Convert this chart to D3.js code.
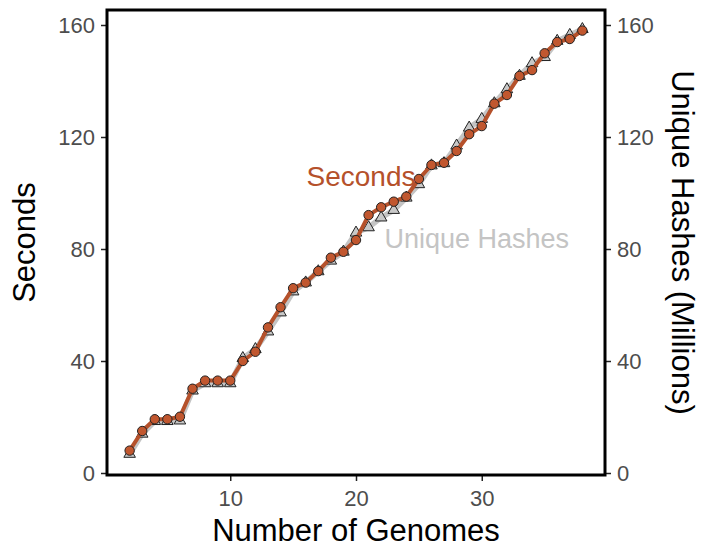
<!DOCTYPE html>
<html>
<head>
<meta charset="utf-8">
<script src="https://cdn.jsdelivr.net/npm/d3@7"></script>
<style>
  body { margin: 0; background: #fff; }
  svg { font-family: "Liberation Sans", Arial, Helvetica, sans-serif; }
</style>
</head>
<body>
<svg id="chart" width="701" height="550"></svg>
<script>
// number of genomes on x
const genomes = [2,3,4,5,6,7,8,9,10,11,12,13,14,15,16,17,18,19,20,
                 21,22,23,24,25,26,27,28,29,30,31,32,33,34,35,36,37,38];
// left axis - seconds
const seconds = [8,15,19.2,19.2,20.1,30.1,33,33,33,40,43.3,52,59.2,66,68,72.1,76.9,79,83.2,
                 92.1,94.9,96.9,98.7,105,110,110.8,115,121,123.9,131.9,135,141.8,143.9,149.9,153.9,155,158];
// right axis - unique hashes (millions)
const hashes = [6.8,14,18.5,18.5,18.7,29.4,32,32,32,41,44.2,50.5,57.3,64.8,68,72,75.8,79,85.8,
                87.7,91.2,93.9,98.3,103.1,109.8,110.6,116.9,123.3,126.4,132,137,141.8,146.3,148.5,154.3,156.4,158.5];
const yTicks = [0,40,80,120,160];
const xTicks = [10,20,30];

const rust = '#b5512b';
const rustFill = '#c1572f';
const grey = '#c4c4c4';

let mLeft = 107, mRight = 605, mTop = 10, mBottom = 475;

let svg = d3.select('#chart');

let xScale = d3.scaleLinear().domain([0.2, 39.8]).range([mLeft, mRight]);
let yScale = d3.scaleLinear().domain([0, 160]).range([473, 25]);
let y2Scale = d3.scaleLinear().domain([0, 160]).range([473, 25]);

let seriesSec = genomes.map((g,i) => ({x: g, y: seconds[i]}));
let seriesHash = genomes.map((g,i) => ({x: g, y: hashes[i]}));

// axes
let yAxisL = d3.axisLeft(yScale).tickValues(yTicks).tickSize(6).tickPadding(6);
let yAxisR = d3.axisRight(y2Scale).tickValues(yTicks).tickSize(6).tickPadding(6);
let xAxis = d3.axisBottom(xScale).tickValues(xTicks).tickSize(6).tickPadding(9);

function styleAxis(g){
  g.select('.domain').remove();
  g.selectAll('.tick line').attr('stroke', '#222').attr('stroke-width', 1.5);
  g.selectAll('.tick text').attr('fill', '#4d4d4d').style('font-size', '22px');
}

svg.append('g').attr('transform', 'translate(' + mLeft + ',0)').call(yAxisL).call(styleAxis);
svg.append('g').attr('transform', 'translate(' + mRight + ',0)').call(yAxisR).call(styleAxis);
svg.append('g').attr('transform', 'translate(0,' + mBottom + ')').call(xAxis).call(styleAxis);

// unique hashes line + triangles
svg.append('path')
  .datum(seriesHash)
  .attr('d', d3.line().x(d => xScale(d.x)).y(d => y2Scale(d.y)))
  .attr('fill', 'none')
  .attr('stroke', grey)
  .attr('stroke-width', 5.5)
  .attr('stroke-linejoin', 'round');

let tri = d3.symbol().type(d3.symbolTriangle).size(58);
svg.selectAll('.tri')
  .data(seriesHash)
  .enter()
  .append('path')
  .attr('class', 'tri')
  .attr('d', tri)
  .attr('transform', d => 'translate(' + xScale(d.x) + ',' + y2Scale(d.y) + ')')
  .attr('fill', '#c8c8c8')
  .attr('stroke', '#222')
  .attr('stroke-width', 1);

// seconds line + circles
svg.append('path')
  .datum(seriesSec)
  .attr('d', d3.line().x(d => xScale(d.x)).y(d => yScale(d.y)))
  .attr('fill', 'none')
  .attr('stroke', rust)
  .attr('stroke-width', 4)
  .attr('stroke-linejoin', 'round');

svg.selectAll('.dot')
  .data(seriesSec)
  .enter()
  .append('circle')
  .attr('class', 'dot')
  .attr('cx', d => xScale(d.x))
  .attr('cy', d => yScale(d.y))
  .attr('r', 4.7)
  .attr('fill', rustFill)
  .attr('stroke', '#222')
  .attr('stroke-width', 1);

// frame
svg.append('rect')
  .attr('x', mLeft).attr('y', mTop)
  .attr('width', mRight - mLeft).attr('height', mBottom - mTop)
  .attr('fill', 'none')
  .attr('stroke', '#000')
  .attr('stroke-width', 3);

// in-plot labels
svg.append('text')
  .attr('x', xScale(20.4)).attr('y', yScale(102.5))
  .attr('text-anchor', 'middle')
  .attr('fill', rust)
  .style('font-size', '28px')
  .text('Seconds');

svg.append('text')
  .attr('x', xScale(29.6)).attr('y', yScale(80.4))
  .attr('text-anchor', 'middle')
  .attr('fill', grey)
  .style('font-size', '27px')
  .text('Unique Hashes');

// axis titles
svg.append('text')
  .attr('transform', 'translate(35,' + (mTop + mBottom) / 2 + ') rotate(-90)')
  .attr('text-anchor', 'middle')
  .attr('fill', '#000')
  .style('font-size', '31px')
  .text('Seconds');

svg.append('text')
  .attr('transform', 'translate(672,' + (mTop + mBottom) / 2 + ') rotate(90)')
  .attr('text-anchor', 'middle')
  .attr('fill', '#000')
  .style('font-size', '31px')
  .text('Unique Hashes (Millions)');

svg.append('text')
  .attr('x', (mLeft + mRight) / 2).attr('y', 541)
  .attr('text-anchor', 'middle')
  .attr('fill', '#000')
  .style('font-size', '31px')
  .text('Number of Genomes');
</script>
</body>
</html>
